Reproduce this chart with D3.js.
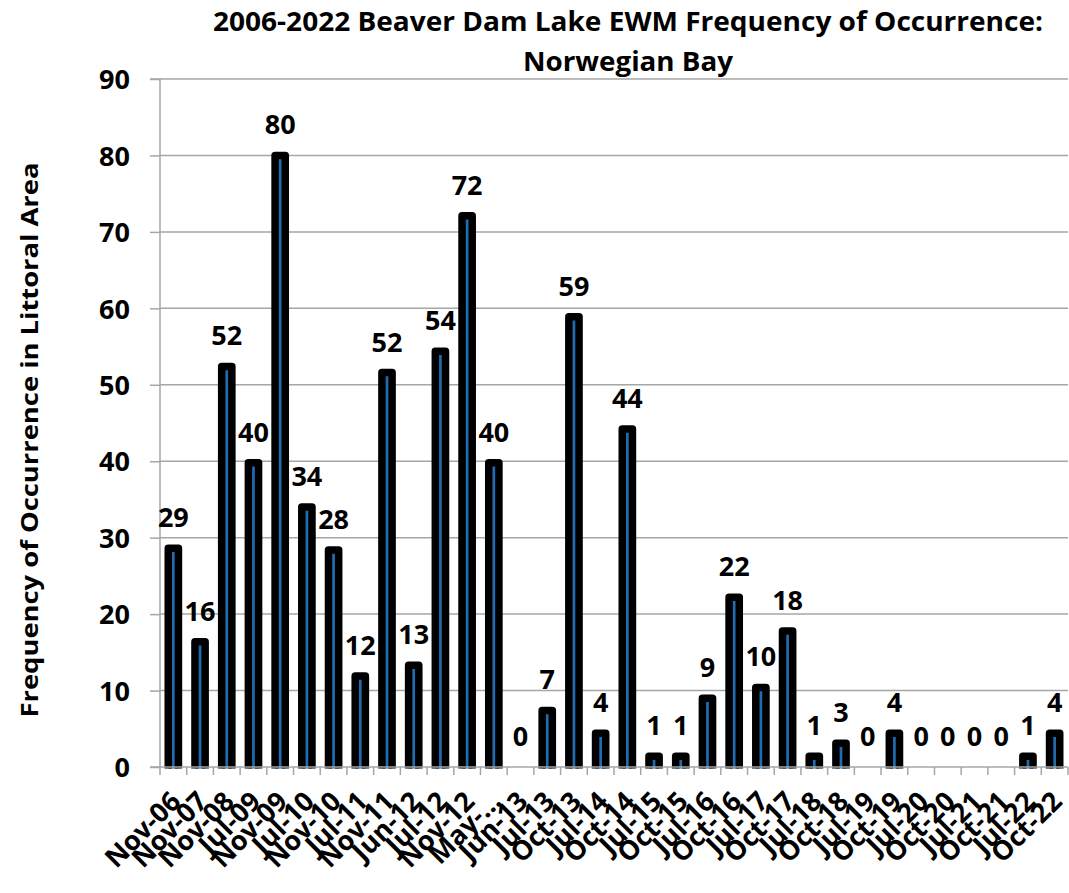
<!DOCTYPE html>
<html>
<head>
<meta charset="utf-8">
<script src="https://cdn.jsdelivr.net/npm/d3@7"></script>
<style>
  html, body { margin: 0; padding: 0; background: #fff; }
  text { font-family: "Open Sans", "Noto Sans", sans-serif; font-weight: 700; fill: #000; }
</style>
</head>
<body>
<svg id="chart" width="1069" height="893"></svg>
<script>
const categories = ["Nov-06","Nov-07","Nov-08","Jul-09","Nov-09","Jul-10","Nov-10","Jul-11","Nov-11","Jun-12","Jul-12","Nov-12","May-…","Jun-13","Jul-13","Oct-13","Jul-14","Oct-14","Jul-15","Oct-15","Jul-16","Oct-16","Jul-17","Oct-17","Jul-18","Oct-18","Jul-19","Oct-19","Jul-20","Oct-20","Jul-21","Oct-21","Jul-22","Oct-22"];
const values = [28.6,16.4,52.4,39.8,80.0,34.0,28.4,11.9,51.6,13.3,54.4,72.1,39.8,0,7.4,58.9,4.4,44.2,1.4,1.4,9.0,22.2,10.4,17.8,1.4,3.1,0,4.4,0,0,0,0,1.4,4.4];
const yTicks = [0,10,20,30,40,50,60,70,80,90];
const titleLines = ["2006-2022 Beaver Dam Lake EWM Frequency of Occurrence:", "Norwegian Bay"];
const yTitle = "Frequency of Occurrence in Littoral Area";

(function () {
const svg = d3.select("#chart");
const pLeft = 160, pRight = 1068, pTop = 79, pBottom = 767;
const grid = "#a6a6a6";

const x = d3.scaleBand().domain(categories).range([pLeft, pRight]).padding(0);
const y = d3.scaleLinear().domain([0, 90]).range([pBottom, pTop]);

// gridlines
svg.append("g").selectAll("line").data(yTicks.filter(d => d > 0)).join("line")
  .attr("x1", pLeft).attr("x2", pRight)
  .attr("y1", d => y(d)).attr("y2", d => y(d))
  .attr("stroke", grid).attr("stroke-width", 1.5);

// clip
svg.append("defs").append("clipPath").attr("id", "plotclip")
  .append("rect").attr("x", pLeft).attr("y", 0).attr("width", pRight - pLeft + 2).attr("height", pBottom + 1.5);

// bars
const bw = 10.2;
svg.append("g").attr("clip-path", "url(#plotclip)").selectAll("rect")
  .data(categories.map((c, i) => ({c, v: values[i]})).filter(d => d.v > 0)).join("rect")
  .attr("x", d => x(d.c) + x.bandwidth() / 2 - bw / 2)
  .attr("width", bw)
  .attr("y", d => y(d.v))
  .attr("height", d => pBottom - y(d.v) + 6)
  .attr("fill", "#1f6cb0")
  .attr("stroke", "#000")
  .attr("stroke-width", 7.5)
  .attr("stroke-linejoin", "round");

// y axis
const yAxis = d3.axisLeft(y).tickValues(yTicks).tickSize(10).tickPadding(20);
const yg = svg.append("g").attr("transform", `translate(${pLeft},0)`).call(yAxis);
yg.select(".domain").attr("stroke", grid).attr("stroke-width", 1.5).attr("d", `M-10,${pBottom}H0V${pTop}H-10`);
yg.selectAll(".tick line").attr("stroke", grid).attr("stroke-width", 1.5);
yg.selectAll(".tick text").style("font-size", "27px").attr("font-family", null).attr("dy", "0.36em");

// x axis
const xAxis = d3.axisBottom(x).tickSize(0).tickFormat("");
const xg = svg.append("g").attr("transform", `translate(0,${pBottom})`).call(xAxis);
xg.select(".domain").attr("stroke", grid).attr("stroke-width", 1.5).attr("d", `M${pLeft},0H${pRight}`);
// tick marks at band boundaries
svg.append("g").selectAll("line").data(categories.concat(["__end"])).join("line")
  .attr("x1", (d, i) => pLeft + i * x.step()).attr("x2", (d, i) => pLeft + i * x.step())
  .attr("y1", pBottom).attr("y2", pBottom + 8)
  .attr("stroke", grid).attr("stroke-width", 1.5);

// x labels
svg.append("g").selectAll("text").data(categories).join("text")
  .attr("transform", d => `translate(${x(d) + x.bandwidth() / 2 + 9},${pBottom + 36}) rotate(-45)`)
  .attr("text-anchor", "end")
  .style("font-size", "27px")
  .text(d => d);

// value labels
svg.append("g").selectAll("text").data(categories.map((c, i) => ({c, v: values[i]}))).join("text")
  .attr("x", d => x(d.c) + x.bandwidth() / 2)
  .attr("y", d => y(d.v) - 21)
  .attr("text-anchor", "middle")
  .style("font-size", "27px")
  .text(d => Math.round(d.v));

// title
svg.append("text").attr("x", 628).attr("y", 31).attr("text-anchor", "middle")
  .style("font-size", "26px").attr("textLength", 830).attr("lengthAdjust", "spacingAndGlyphs")
  .text(titleLines[0]);
svg.append("text").attr("x", 628).attr("y", 71).attr("text-anchor", "middle")
  .style("font-size", "26px").attr("textLength", 210).attr("lengthAdjust", "spacingAndGlyphs")
  .text(titleLines[1]);

// y title
svg.append("text").attr("transform", "translate(38,440) rotate(-90)")
  .attr("text-anchor", "middle").style("font-size", "24px")
  .attr("textLength", 555).attr("lengthAdjust", "spacingAndGlyphs")
  .text(yTitle);
})();
</script>
</body>
</html>
